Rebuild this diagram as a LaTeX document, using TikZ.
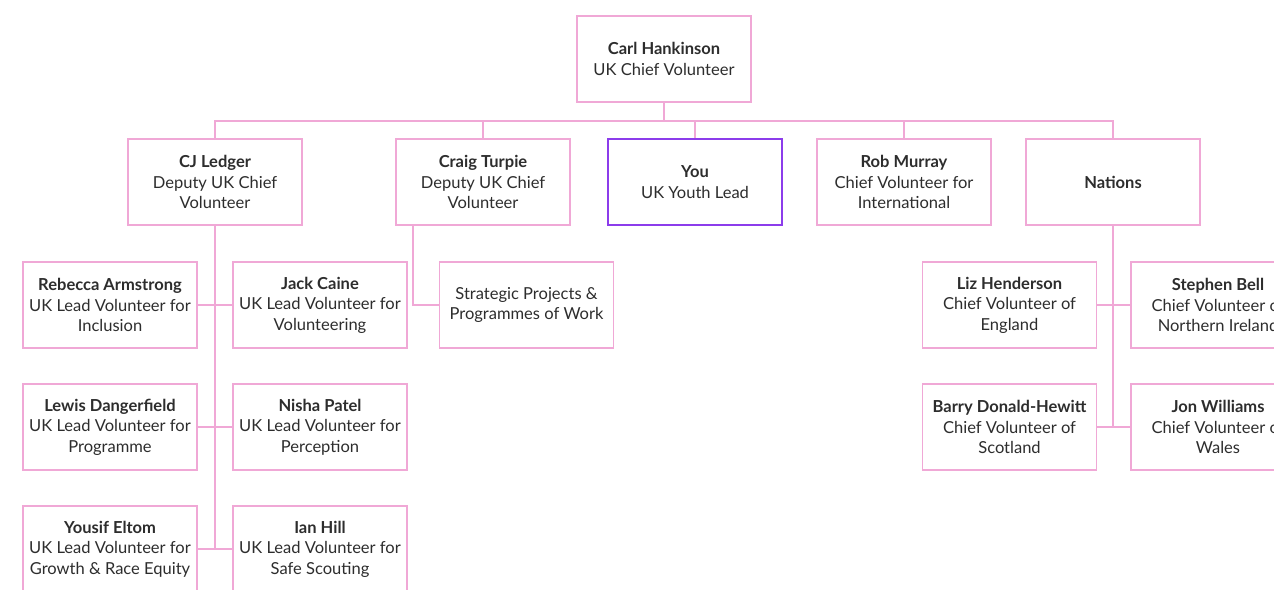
\documentclass[tikz,border=0pt]{standalone}
\usepackage{fontspec}
\setmainfont{Lato}
\definecolor{chartpink}{RGB}{240,168,214}
\definecolor{chartpurple}{RGB}{140,60,235}
\definecolor{charttext}{RGB}{45,45,45}
\newcommand\role[2]{\textbf{#1}\\#2}

\begin{document}
\begin{tikzpicture}
[
    x=0.02cm, y=-0.02cm,
    person/.style={draw=chartpink, line width=1.1pt, fill=white, text=charttext,
        minimum width=3.48cm, minimum height=1.72cm, inner sep=2pt, align=center,
        font=\fontsize{9.4}{11.6}\selectfont},
    lead/.style={person, draw=chartpurple},
    link/.style={draw=chartpink, line width=1.1pt},
]
\useasboundingbox (0,0) rectangle (1274,590);
\clip (0,0) rectangle (1274,590);

\node [person] (carl) at (664,59) {\role{Carl Hankinson}{UK Chief Volunteer}};

\node [person] (cj) at (215,182) {\role{CJ Ledger}{Deputy UK Chief\\Volunteer}};
\node [person] (craig) at (483,182) {\role{Craig Turpie}{Deputy UK Chief\\Volunteer}};
\node [lead] (you) at (695,182) {\role{You}{UK Youth Lead}};
\node [person] (rob) at (904,182) {\role{Rob Murray}{Chief Volunteer for\\International}};
\node [person] (nations) at (1113,182) {\textbf{Nations}};

\node [person] (rebecca) at (110,305) {\role{Rebecca Armstrong}{UK Lead Volunteer for\\Inclusion}};
\node [person] (jack) at (320,305) {\role{Jack Caine}{UK Lead Volunteer for\\Volunteering}};
\node [person] (lewis) at (110,427) {\role{Lewis Dangerfield}{UK Lead Volunteer for\\Programme}};
\node [person] (nisha) at (320,427) {\role{Nisha Patel}{UK Lead Volunteer for\\Perception}};
\node [person] (yousif) at (110,549) {\role{Yousif Eltom}{UK Lead Volunteer for\\Growth \& Race Equity}};
\node [person] (ian) at (320,549) {\role{Ian Hill}{UK Lead Volunteer for\\Safe Scouting}};

\node [person] (strategic) at (526.5,305) {Strategic Projects \&\\Programmes of Work};

\node [person] (liz) at (1009.5,305) {\role{Liz Henderson}{Chief Volunteer of\\England}};
\node [person] (stephen) at (1218,305) {\role{Stephen Bell}{Chief Volunteer of\\Northern Ireland}};
\node [person] (barry) at (1009.5,427) {\role{Barry Donald-Hewitt}{Chief Volunteer of\\Scotland}};
\node [person] (jon) at (1218,427) {\role{Jon Williams}{Chief Volunteer of\\Wales}};

% top level
\coordinate (bus) at (664,121);
\draw [link] (carl.south) -- (bus);
\draw [link] (cj.north) |- (bus) -| (nations.north);
\foreach \n in {craig, you, rob}
    \draw [link] (\n.north) -- (\n.north |- bus);

% CJ Ledger
\draw [link] (cj.south) -- (cj.south |- yousif.east);
\draw [link] (rebecca.east) -- (jack.west);
\draw [link] (lewis.east) -- (nisha.west);
\draw [link] (yousif.east) -- (ian.west);

% Craig Turpie
\coordinate (craigleg) at (413,225);
\draw [link] (craigleg) |- (strategic.west);

% Nations
\draw [link] (nations.south) -- (nations.south |- jon.west);
\draw [link] (liz.east) -- (stephen.west);
\draw [link] (barry.east) -- (jon.west);
\end{tikzpicture}
\end{document}
